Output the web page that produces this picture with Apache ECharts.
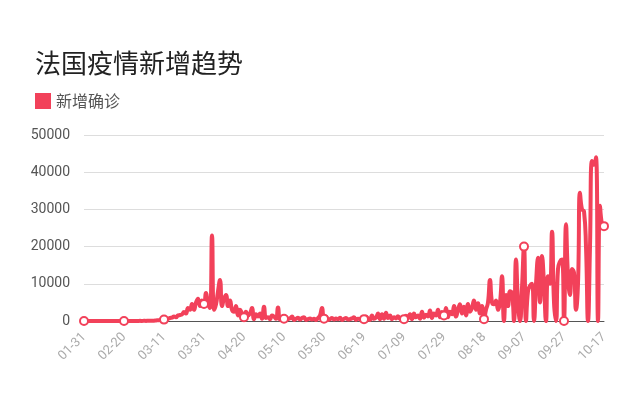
<!DOCTYPE html>
<html><head><meta charset="utf-8">
<script src="https://cdn.jsdelivr.net/npm/echarts@6/dist/echarts.min.js"></script>
<style>html,body{margin:0;padding:0;background:#fff}#c{width:641px;height:402px}</style>
</head><body><div id="c"></div>
<script>
const seriesName = '新增确诊';
const titleText = '法国疫情新增趋势';
const newCases = [
0,0,0,0,0,0,0,0,0,0,0,0,0,0,0,0,0,0,0,0,
0,0,0,0,0,2,10,20,40,0,50,30,80,70,100,90,150,200,250,300,
370,500,600,800,900,1200,1000,1500,1600,1800,2400,2000,3500,3000,4600,3000,5000,6000,4000,5500,
4600,7500,4800,3500,23000,3000,4500,8000,11000,4000,6000,7000,4000,5500,3000,2500,4000,1500,3000,2000,
1000,2500,1500,2000,3500,500,1800,1200,2000,600,3800,800,1000,500,1500,1200,600,3600,400,800,
600,1000,500,700,1200,300,600,900,400,800,1000,300,500,700,400,600,300,800,1500,3500,
600,1200,300,500,800,400,700,500,900,300,600,800,400,500,700,1000,300,600,500,800,
500,1200,700,300,1500,600,900,2000,500,1800,600,2200,800,1500,500,1000,700,1300,600,900,
500,1400,800,1800,500,2000,1000,1500,600,2500,900,1700,1200,2800,800,2000,1500,3000,1000,2400,
1500,3500,1000,2500,1800,4000,1200,3000,4500,2000,3800,1500,4600,2500,3500,5500,3000,4800,2000,4000,
500,3000,5000,11000,5000,4500,5500,3000,5000,12000,0,7000,4000,8000,7500,0,16500,5000,0,9000,
20000,0,8000,9500,10000,0,10000,17000,5000,17500,10000,0,12000,10000,24000,5000,0,14000,16000,16500,
0,26000,12000,7000,14000,13000,3000,10000,34500,30000,29500,20000,0,20000,43000,42000,44000,0,31000,26000,
25500];
const startDate = [2020, 0, 31];
const dates = [];
for (let i = 0; i < newCases.length; i++) {
  const d = new Date(startDate[0], startDate[1], startDate[2] + i);
  dates.push(String(d.getMonth()+1).padStart(2,'0') + '-' + String(d.getDate()).padStart(2,'0'));
}
const chart = echarts.init(document.getElementById('c'));
chart.setOption({
  animation:false,
  title:{text:titleText,left:30,top:45,textStyle:{fontSize:26,fontWeight:'normal',color:'#222',fontFamily:'Noto Sans CJK SC'}},
  legend:{left:30,top:88,icon:'rect',itemWidth:16,itemHeight:16,itemGap:6,textStyle:{fontSize:16,color:'#555',fontFamily:'Noto Sans CJK SC'}},
  grid:{left:84,right:37,top:135,bottom:81},
  xAxis:{type:'category',data:dates,boundaryGap:false,
    axisLine:{lineStyle:{color:'#555'}},axisTick:{show:false},
    axisLabel:{interval:19,rotate:45,color:'#aaa',fontSize:13,margin:14,fontFamily:'Roboto'}},
  yAxis:{type:'value',min:0,max:50000,interval:10000,
    axisLine:{show:false},axisTick:{show:false},
    axisLabel:{color:'#555',fontSize:14,margin:14,fontFamily:'Roboto',formatter:v=>String(v)},
    splitLine:{lineStyle:{color:'#ddd'}}},
  series:[{name:seriesName,type:'line',data:newCases,smooth:true,
    symbol:'emptyCircle',symbolSize:8,
    lineStyle:{width:4,color:'#f2415a'},itemStyle:{color:'#f2415a',borderWidth:1.5}}]
});
</script></body></html>
